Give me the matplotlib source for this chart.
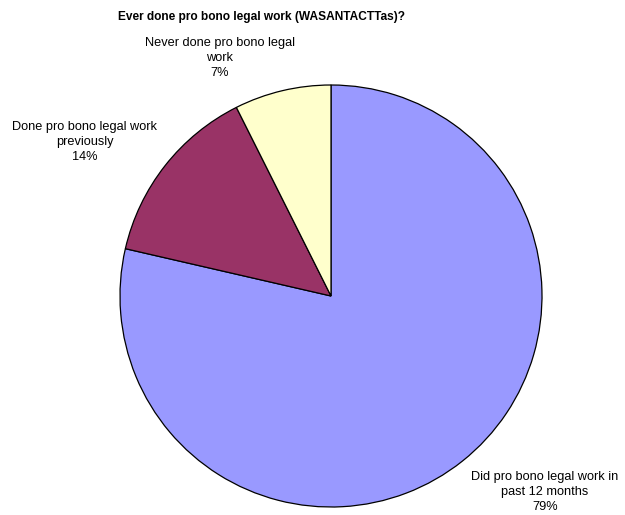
import matplotlib
matplotlib.use("Agg")
import matplotlib.pyplot as plt

plt.rcParams['font.family'] = ['Liberation Sans', 'DejaVu Sans']

title = "Ever done pro bono legal work (WASANTACTTas)?"
categories = ["Did pro bono legal work in\npast 12 months",
              "Done pro bono legal work\npreviously",
              "Never done pro bono legal\nwork"]
values = [78.6, 14.0, 7.4]
pct_labels = ["79%", "14%", "7%"]
colors = ["#9999FF", "#993366", "#FFFFCC"]

W, H = 625, 515
fig = plt.figure(figsize=(W / 100, H / 100), dpi=100)
ax = fig.add_axes([0, 0, 1, 1])

cx, cy, r = 331, H - 296, 211
ax.pie(values, colors=colors, startangle=90, counterclock=False,
       center=(cx, cy), radius=r, frame=True,
       wedgeprops=dict(edgecolor='black', linewidth=0.9))
ax.set_xlim(0, W)
ax.set_ylim(0, H)
ax.set_aspect('equal')
ax.axis('off')

label_pos = [(545, H - 492), (85, H - 142), (220, H - 58)]
for cat, pct, (x, y) in zip(categories, pct_labels, label_pos):
    ax.text(x, y, cat + "\n" + pct, ha='center', va='center',
            fontsize=9.2, linespacing=1.3, color='black')

fig.text(261 / W, 1 - 17 / H, title, ha='center', va='center',
         fontsize=8.6, fontweight='bold')

fig.savefig("out.png", dpi=100, facecolor='white')
